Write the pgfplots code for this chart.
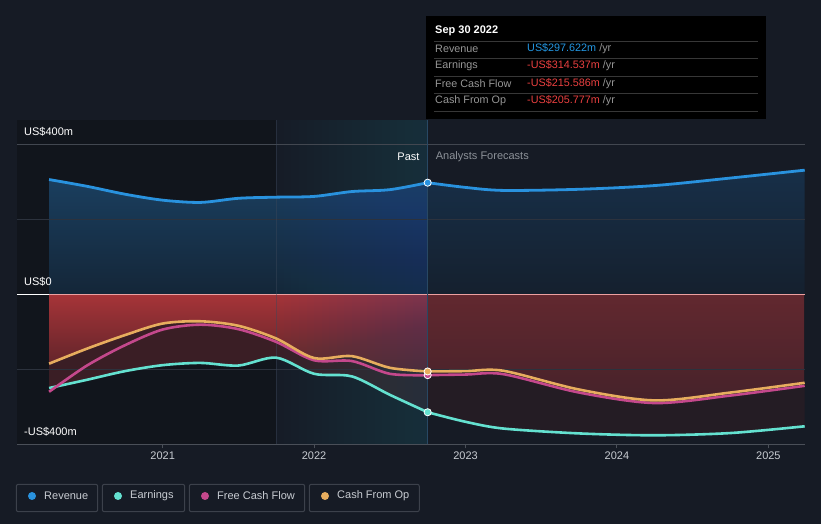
\documentclass[border=0pt]{standalone}
\usepackage{fontspec}
\setmainfont{Liberation Sans}
\usepackage{pgfplots}
\usepackage{pgfplotstable}
\pgfplotsset{compat=1.18}
\definecolor{bg}{RGB}{22,27,37}
\definecolor{darkl}{RGB}{17,21,28}
\definecolor{rev}{RGB}{41,146,222}
\definecolor{earn}{RGB}{100,225,208}
\definecolor{fcf}{RGB}{196,72,140}
\definecolor{cfo}{RGB}{231,173,94}
\definecolor{revtopP}{RGB}{26,62,94}
\definecolor{revbotP}{RGB}{20,38,56}
\definecolor{revtopF}{RGB}{23,47,72}
\definecolor{revbotF}{RGB}{21,32,46}
\definecolor{redtopP}{RGB}{166,52,56}
\definecolor{redbotP}{RGB}{92,35,41}
\definecolor{redtopF}{RGB}{98,40,47}
\definecolor{redbotF}{RGB}{70,34,42}
\definecolor{earnP}{RGB}{58,30,37}
\definecolor{earnF}{RGB}{36,28,36}
\definecolor{hl}{RGB}{34,108,165}
\definecolor{gridc}{RGB}{44,50,61}
\definecolor{gridtop}{RGB}{66,71,80}
\definecolor{axisc}{RGB}{74,79,88}
\definecolor{zero}{RGB}{236,160,160}
\definecolor{txt}{RGB}{200,204,210}
\definecolor{txtgray}{RGB}{140,145,152}
\definecolor{tipgray}{RGB}{150,150,150}
\definecolor{tipred}{RGB}{235,64,64}
\definecolor{tipblue}{RGB}{35,150,225}
\definecolor{legborder}{RGB}{60,65,75}
\definecolor{tipline}{RGB}{55,55,55}
\definecolor{divline}{RGB}{40,72,100}
\definecolor{vline}{RGB}{60,72,90}

\pgfplotstableread{
x rev earn fcf cfo
2020.25 306 -250 -260 -185
2020.5 288 -228 -190 -145
2020.75 267 -205 -136 -109
2021.0 251 -189 -94 -78
2021.25 245 -183 -81 -72
2021.5 256 -190 -93 -84
2021.75 259 -169 -127 -118
2022.0 261 -212 -176 -170
2022.25 274 -219 -178 -165
2022.5 279 -268 -212 -196
2022.75 297.622 -314.537 -215.586 -205.777
}\past

\pgfplotstableread{
x rev earn fcf cfo
2022.75 297.622 -314.537 -215.586 -205.777
2023.0 285 -340 -214 -205
2023.25 277 -358 -213 -204
2023.75 280 -371 -262 -254
2024.25 290 -376 -290 -283
2024.75 310 -370 -270 -262
2025.24 331 -352 -244 -236
}\fut

\begin{document}
\begin{tikzpicture}[x=1bp,y=1bp]
\fill[bg] (0,0) rectangle (821,524);
\begin{axis}[
  at={(17bp,79.7bp)}, anchor=south west,
  scale only axis, width=788bp, height=324bp,
  xmin=2020.038, xmax=2025.242, ymin=-400, ymax=464,
  axis x line*=bottom, axis y line=none,
  x axis line style={-, draw=axisc, line width=1bp},
  xtick={2021,2022,2023,2024,2025},
  xticklabels={2021,2022,2023,2024,2025},
  xtick pos=bottom, tick align=outside,
  major tick length=4bp,
  tick style={draw=axisc, line width=1bp},
  xticklabel style={font=\fontsize{11bp}{13bp}\selectfont, text=txt},
  ytick=\empty,
  clip=false,
]
% dark left region
\addplot[draw=none, fill=darkl] coordinates {(2020.038,-400) (2021.75,-400) (2021.75,464) (2020.038,464)} -- cycle;
% revenue fills
\addplot[smooth, draw=none, top color=revtopP, bottom color=revbotP] table[x=x,y=rev] {\past} \closedcycle;
\addplot[smooth, draw=none, top color=revtopF, bottom color=revbotF] table[x=x,y=rev] {\fut} \closedcycle;
% earnings fills
\addplot[smooth, draw=none, fill=earnP] table[x=x,y=earn] {\past} \closedcycle;
\addplot[smooth, draw=none, fill=earnF] table[x=x,y=earn] {\fut} \closedcycle;
% cash from op fills
\addplot[smooth, draw=none, top color=redtopP, bottom color=redbotP] table[x=x,y=cfo] {\past} \closedcycle;
\addplot[smooth, draw=none, top color=redtopF, bottom color=redbotF] table[x=x,y=cfo] {\fut} \closedcycle;
% highlight band: overlapping translucent strips, stronger to the right
\pgfplotsinvokeforeach{2021.75,2021.80,2021.85,2021.90,2021.95,2022.00,2022.05,2022.10,2022.15,2022.20,2022.25,2022.30,2022.35,2022.40,2022.45,2022.50,2022.55,2022.60,2022.65,2022.70}{
  \addplot[draw=none, fill=hl, fill opacity=0.016] coordinates {(#1,-400) (2022.75,-400) (2022.75,464) (#1,464)} -- cycle;
}
% grid
\draw[gridtop, line width=1bp] (axis cs:2020.038,400) -- (axis cs:2025.242,400);
\draw[gridc, line width=1bp] (axis cs:2020.038,200) -- (axis cs:2025.242,200);
\draw[gridc, line width=1bp] (axis cs:2020.038,-200) -- (axis cs:2025.242,-200);
\draw[white, line width=1.3bp] (axis cs:2020.038,0) -- (axis cs:2020.25,0);
\draw[zero, line width=1.3bp] (axis cs:2020.25,0) -- (axis cs:2025.242,0);
% vertical lines
\draw[vline, line width=0.8bp, opacity=0.45] (axis cs:2021.75,-400) -- (axis cs:2021.75,464);
\draw[divline, line width=1bp] (axis cs:2022.75,-400) -- (axis cs:2022.75,464);
% lines
\addplot[smooth, earn, line width=2.6bp] table[x=x,y=earn] {\past};
\addplot[smooth, earn, line width=2.6bp] table[x=x,y=earn] {\fut};
\addplot[smooth, fcf, line width=2.6bp] table[x=x,y=fcf] {\past};
\addplot[smooth, fcf, line width=2.6bp] table[x=x,y=fcf] {\fut};
\addplot[smooth, cfo, line width=2.6bp] table[x=x,y=cfo] {\past};
\addplot[smooth, cfo, line width=2.6bp] table[x=x,y=cfo] {\fut};
\addplot[smooth, rev, line width=2.8bp] table[x=x,y=rev] {\past};
\addplot[smooth, rev, line width=2.8bp] table[x=x,y=rev] {\fut};
% markers
\addplot[only marks, mark=*, mark size=3.6pt, mark options={draw=white, fill=earn, line width=0.8bp}] coordinates {(2022.75,-314.537)};
\addplot[only marks, mark=*, mark size=3.6pt, mark options={draw=white, fill=fcf, line width=0.8bp}] coordinates {(2022.75,-215.586)};
\addplot[only marks, mark=*, mark size=3.6pt, mark options={draw=white, fill=cfo, line width=0.8bp}] coordinates {(2022.75,-205.777)};
\addplot[only marks, mark=*, mark size=3.6pt, mark options={draw=white, fill=rev, line width=0.8bp}] coordinates {(2022.75,297.622)};
% labels
\node[anchor=west, text=white, font=\fontsize{11bp}{13bp}\selectfont, inner sep=0pt] at (axis cs:2020.084,432) {US\$400m};
\node[anchor=west, text=white, font=\fontsize{11bp}{13bp}\selectfont, inner sep=0pt] at (axis cs:2020.084,32) {US\$0};
\node[anchor=west, text=white, font=\fontsize{11bp}{13bp}\selectfont, inner sep=0pt] at (axis cs:2020.084,-368) {-US\$400m};
\node[anchor=east, text=white, font=\fontsize{11bp}{13bp}\selectfont, inner sep=0pt] at (axis cs:2022.697,368) {Past};
\node[anchor=west, text=txtgray, font=\fontsize{11bp}{13bp}\selectfont, inner sep=0pt] at (axis cs:2022.803,368) {Analysts Forecasts};
\end{axis}
% tooltip
\fill[black] (426,405) rectangle (766,508);
\node[anchor=west, text=white, font=\fontsize{11bp}{13bp}\selectfont\bfseries, inner sep=0pt] at (435,493) {Sep 30 2022};
\foreach \yy in {483,466,448,431,413} {\draw[tipline, line width=0.8bp] (434,\yy) -- (758,\yy);}
\begin{scope}[every node/.style={anchor=west, inner sep=0pt, font=\fontsize{10.8bp}{12bp}\selectfont}]
\node[text=tipgray] at (435,475) {Revenue};
\node[text=tipgray] at (435,458) {Earnings};
\node[text=tipgray] at (435,440) {Free Cash Flow};
\node[text=tipgray] at (435,423) {Cash From Op};
\node at (527,475) {\textcolor{tipblue}{US\$297.622m} \textcolor{tipgray}{/yr}};
\node at (527,458) {\textcolor{tipred}{-US\$314.537m} \textcolor{tipgray}{/yr}};
\node at (527,440) {\textcolor{tipred}{-US\$215.586m} \textcolor{tipgray}{/yr}};
\node at (527,423) {\textcolor{tipred}{-US\$205.777m} \textcolor{tipgray}{/yr}};
\end{scope}
% legend
\begin{scope}[every node/.style={anchor=west, inner sep=0pt, text=txt, font=\fontsize{11bp}{13bp}\selectfont}]
\draw[legborder, line width=1bp, rounded corners=2bp] (16.3,12.3) rectangle (97.7,39.7);
\draw[legborder, line width=1bp, rounded corners=2bp] (102.3,12.3) rectangle (184.7,39.7);
\draw[legborder, line width=1bp, rounded corners=2bp] (189.3,12.3) rectangle (304.7,39.7);
\draw[legborder, line width=1bp, rounded corners=2bp] (309.3,12.3) rectangle (419.3,39.7);
\fill[rev] (32,28) circle (4);
\fill[earn] (118,28) circle (4);
\fill[fcf] (205,28) circle (4);
\fill[cfo] (325,28) circle (4);
\node at (44,28) {Revenue};
\node at (130,28) {Earnings};
\node at (217,28) {Free Cash Flow};
\node at (337,28) {Cash From Op};
\end{scope}
\end{tikzpicture}
\end{document}
